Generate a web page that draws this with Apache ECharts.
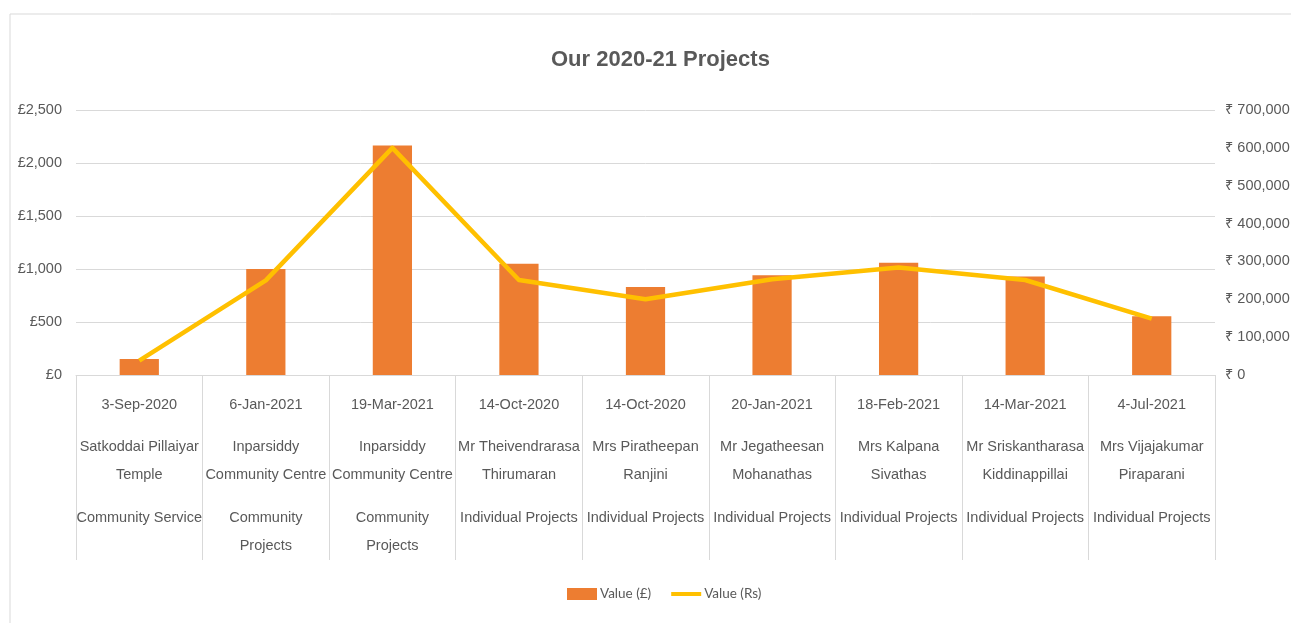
<!DOCTYPE html>
<html>
<head>
<meta charset="utf-8">
<script src="https://cdn.jsdelivr.net/npm/echarts@6/dist/echarts.min.js"></script>
<style>
html,body{margin:0;padding:0;background:#fff;overflow:hidden;}
#chart{width:1291px;height:623px;}
</style>
</head>
<body>
<div id="chart"></div>
<script>
const dates = ['3-Sep-2020','6-Jan-2021','19-Mar-2021','14-Oct-2020','14-Oct-2020','20-Jan-2021','18-Feb-2021','14-Mar-2021','4-Jul-2021'];
const names = ['Satkoddai Pillaiyar\nTemple','Inparsiddy\nCommunity Centre','Inparsiddy\nCommunity Centre','Mr Theivendrarasa\nThirumaran','Mrs Piratheepan\nRanjini','Mr Jegatheesan\nMohanathas','Mrs Kalpana\nSivathas','Mr Sriskantharasa\nKiddinappillai','Mrs Vijajakumar\nPiraparani'];
const types = ['Community Service','Community\nProjects','Community\nProjects','Individual Projects','Individual Projects','Individual Projects','Individual Projects','Individual Projects','Individual Projects'];
const valueGBP = [150, 1000, 2165, 1050, 830, 940, 1060, 930, 555];
const valueINR = [38000, 250000, 600000, 251000, 200000, 253000, 284000, 251000, 149000];
const gbpTicks = {min: 0, max: 2500, interval: 500};
const inrTicks = {min: 0, max: 700000, interval: 100000};

const FONT = '"Liberation Sans Narrow", "Liberation Sans", Arial, sans-serif';
const FS = 14.5;
const TXT = '#595959';
const GRIDC = '#d9d9d9';
const fmt = v => v.toLocaleString('en-GB');

const chart = echarts.init(document.getElementById('chart'));
const extraAxis = (data, margin) => ({
  type: 'category', data: data, position: 'bottom', gridIndex: 0,
  axisLine: {show: false}, axisTick: {show: false}, splitLine: {show: false},
  axisLabel: {interval: 0, margin: margin, color: TXT, fontFamily: FONT, fontSize: FS, lineHeight: 28, verticalAlign: 'top'}
});
chart.setOption({
  backgroundColor: '#fff',
  animation: false,
  graphic: [{type: 'rect', shape: {x: 10, y: 14, width: 1300, height: 700}, style: {fill: 'none', stroke: GRIDC, lineWidth: 1}, silent: true}],
  title: {
    text: 'Our 2020-21 Projects', left: 546, top: 44,
    textStyle: {fontFamily: FONT, fontSize: 22, fontWeight: 'bold', color: TXT}
  },
  legend: {
    bottom: 17, left: 562, itemGap: 18, itemWidth: 30, itemHeight: 12,
    textStyle: {fontFamily: 'Lato, "Open Sans", sans-serif', fontSize: 13.5, color: TXT, padding: [0, 0, 0, -2]},
    data: [
      {name: 'Value (£)', icon: 'rect'},
      {name: 'Value (Rs)', itemStyle: {opacity: 0}, lineStyle: {color: '#FFC000', width: 4}}
    ]
  },
  grid: {left: 76, right: 76, top: 110, bottom: 248, outerBoundsMode: 'none', containLabel: false},
  xAxis: [
    {
      type: 'category', data: dates, position: 'bottom',
      axisLine: {lineStyle: {color: GRIDC, width: 1}},
      axisTick: {show: true, length: 185, interval: 0, lineStyle: {color: GRIDC, width: 1}},
      axisLabel: {interval: 0, margin: 20, color: TXT, fontFamily: FONT, fontSize: FS, lineHeight: 20, verticalAlign: 'top'}
    },
    extraAxis(names, 58),
    extraAxis(types, 129)
  ],
  yAxis: [
    {
      type: 'value', min: gbpTicks.min, max: gbpTicks.max, interval: gbpTicks.interval, position: 'left',
      axisLine: {show: false}, axisTick: {show: false},
      splitLine: {lineStyle: {color: GRIDC, width: 1}},
      axisLabel: {margin: 14, color: TXT, fontFamily: FONT, fontSize: FS, formatter: v => '£' + fmt(v)}
    },
    {
      type: 'value', min: inrTicks.min, max: inrTicks.max, interval: inrTicks.interval, position: 'right',
      axisLine: {show: false}, axisTick: {show: false}, splitLine: {show: false},
      axisLabel: {margin: 10, color: TXT, fontFamily: '"Liberation Sans", "Noto Sans", "DejaVu Sans", sans-serif', fontSize: FS, formatter: v => '₹ ' + fmt(v)}
    }
  ],
  series: [
    {
      name: 'Value (£)', type: 'bar', data: valueGBP, xAxisIndex: 0, yAxisIndex: 0,
      barWidth: '31%', itemStyle: {color: '#ED7D31'}
    },
    {
      name: 'Value (Rs)', type: 'line', data: valueINR, xAxisIndex: 0, yAxisIndex: 1,
      symbol: 'none', lineStyle: {color: '#FFC000', width: 4.5, join: 'round'}, itemStyle: {color: '#FFC000'}
    }
  ]
});
</script>
</body>
</html>
